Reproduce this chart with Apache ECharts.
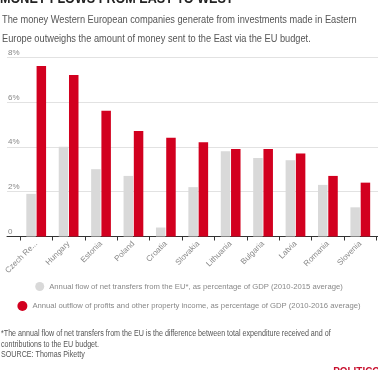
<!DOCTYPE html>
<html><head><meta charset="utf-8">
<script src="https://cdn.jsdelivr.net/npm/echarts@6/dist/echarts.min.js"></script>
<style>html,body{margin:0;padding:0;background:#fff}#c{width:378px;height:370px}</style>
</head><body><div id="c"></div>
<script>
const categories = ["Czech Re...", "Hungary", "Estonia", "Poland", "Croatia", "Slovakia", "Lithuania", "Bulgaria", "Latvia", "Romania", "Slovenia"];
const netTransfers = [1.9, 4.0, 3.0, 2.7, 0.4, 2.2, 3.8, 3.5, 3.4, 2.3, 1.3];
const profitOutflow = [7.6, 7.2, 5.6, 4.7, 4.4, 4.2, 3.9, 3.9, 3.7, 2.7, 2.4];
const yTicks = [0, 2, 4, 6, 8];
const seriesNames = [
  "Annual flow of net transfers from the EU*, as percentage of GDP (2010-2015 average)",
  "Annual outflow of profits and other property income, as percentage of GDP (2010-2016 average)"
];
const titleText = 'MONEY FLOWS FROM EAST TO WEST';
const subtitleLines = [
  'The money Western European companies generate from investments made in Eastern',
  'Europe outweighs the amount of money sent to the East via the EU budget.'
];
const footnoteLines = [
  '*The annual flow of net transfers from the EU is the difference between total expenditure received and of',
  'contributions to the EU budget.',
  'SOURCE: Thomas Piketty'
];

const FONT = '"Liberation Sans", Arial, sans-serif';
function txt(text, x, y, size, color, weight, sx) {
  return {type: 'text', x: x, y: y, scaleX: sx, silent: true,
    style: {text: text, fontFamily: FONT, fontSize: size, fontWeight: weight || 'normal',
            fill: color, verticalAlign: 'middle', align: 'left'}};
}
const chart = echarts.init(document.getElementById('c'), null, {renderer: 'canvas'});
chart.setOption({
  animation: false,
  backgroundColor: '#fff',
  textStyle: {fontFamily: FONT},
  graphic: [
    txt(titleText, 0, -1, 15, '#222', 'bold', 0.84),
    txt(subtitleLines[0], 2, 20, 11, '#555', 'normal', 0.84),
    txt(subtitleLines[1], 2, 39, 11, '#555', 'normal', 0.84),
    txt(footnoteLines[0], 1, 334, 8.5, '#555', 'normal', 0.84),
    txt(footnoteLines[1], 1, 345, 8.5, '#555', 'normal', 0.84),
    txt(footnoteLines[2], 1, 355, 8.5, '#555', 'normal', 0.84),
    {type: 'text', right: -2, y: 372, silent: true, scaleX: 0.9,
     style: {text: 'POLITICO', fontFamily: FONT, fontSize: 11, fontWeight: 'bold', fill: '#c8102e',
             verticalAlign: 'middle'}}
  ],
  legend: [
    {data: [seriesNames[0]], left: 'center', top: 282, orient: 'horizontal', icon: 'circle',
     itemWidth: 9, itemHeight: 9, padding: 0,
     textStyle: {fontFamily: FONT, fontSize: 7.7, color: '#888'}},
    {data: [seriesNames[1]], left: 'center', top: 301, orient: 'horizontal', icon: 'circle',
     itemWidth: 10, itemHeight: 10, padding: 0,
     textStyle: {fontFamily: FONT, fontSize: 7.7, color: '#888'}}
  ],
  grid: [
    {left: 7, right: 0, top: 57, bottom: 133.5},
    {left: 20, right: 1.5, top: 57, bottom: 133.5}
  ],
  xAxis: [
    {gridIndex: 0, type: 'value', min: 0, max: 1, axisLabel: {show: false}, axisTick: {show: false},
     splitLine: {show: false}, axisLine: {show: true, lineStyle: {color: '#333', width: 1}}},
    {gridIndex: 1, type: 'category', data: categories, axisLine: {show: false},
     axisTick: {show: true, length: 4, lineStyle: {color: '#333'}},
     axisLabel: {interval: 0, rotate: 45, fontSize: 8, color: '#888', margin: 6, fontFamily: FONT}}
  ],
  yAxis: [
    {gridIndex: 0, type: 'value', min: 0, max: 8, interval: 2,
     axisLine: {show: false}, axisTick: {show: false},
     splitLine: {show: true, lineStyle: {color: '#e2e2e2', width: 1}},
     axisLabel: {inside: true, margin: 1, verticalAlign: 'bottom', fontSize: 8, color: '#888', fontFamily: FONT,
       lineHeight: 9, padding: [0, 0, 0, 0],
       formatter: v => yTicks.indexOf(v) < 0 ? '' : (v === 0 ? '0' : v + '%')}},
    {gridIndex: 1, type: 'value', min: 0, max: 8, interval: 2, show: false, splitLine: {show: false}}
  ],
  series: [
    {name: seriesNames[0], type: 'bar', xAxisIndex: 1, yAxisIndex: 1, data: netTransfers,
     barWidth: 9.5, barGap: '8%', itemStyle: {color: '#d9d9d9'}},
    {name: seriesNames[1], type: 'bar', xAxisIndex: 1, yAxisIndex: 1, data: profitOutflow,
     barWidth: 9.5, barGap: '8%', itemStyle: {color: '#d2001f'}}
  ]
});
</script></body></html>
